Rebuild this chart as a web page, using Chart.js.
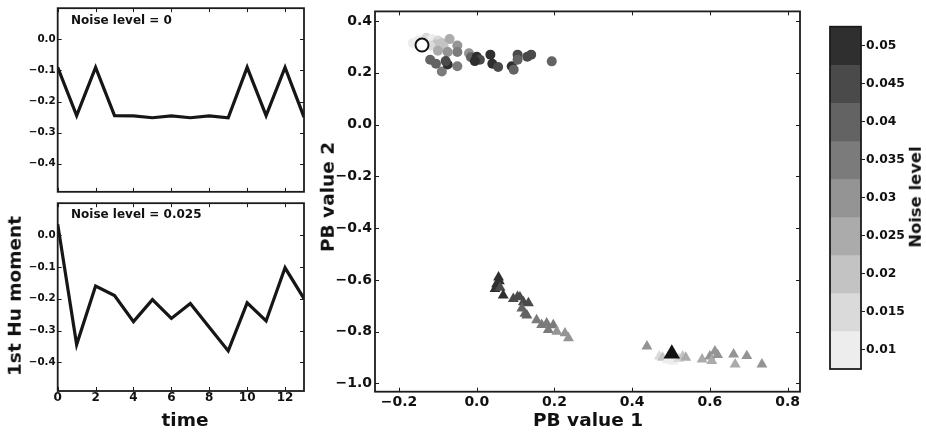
<!DOCTYPE html>
<html><head><meta charset="utf-8">
<script src="https://cdn.jsdelivr.net/npm/chart.js@4"></script>
<style>
html,body{margin:0;padding:0;background:#fff;width:926px;height:433px;overflow:hidden;}
.box{position:absolute;}
.lbl{position:absolute;font-family:"DejaVu Sans";font-weight:bold;color:#111;white-space:nowrap;line-height:1;}
.c{transform:translate(-50%,-50%);}
.r{transform:translate(-50%,-50%) rotate(-90deg);}
</style></head><body>
<div class="box" style="left:0;top:0;width:312px;height:200px"><canvas id="c1"></canvas></div>
<div class="box" style="left:0;top:195px;width:312px;height:238px"><canvas id="c2"></canvas></div>
<div class="box" style="left:320px;top:0;width:500px;height:433px"><canvas id="c3"></canvas></div>
<div class="box" style="left:820px;top:0;width:106px;height:433px"><canvas id="c4"></canvas></div>

<div class="lbl" style="left:71px;top:14px;font-size:12px">Noise level = 0</div>
<div class="lbl" style="left:71px;top:208px;font-size:12px">Noise level = 0.025</div>
<div class="lbl r" style="left:15px;top:296px;font-size:18.5px">1st Hu moment</div>
<div class="lbl c" style="left:185px;top:420px;font-size:18.5px">time</div>
<div class="lbl c" style="left:588px;top:420px;font-size:18.5px">PB value 1</div>
<div class="lbl r" style="left:328px;top:197px;font-size:18.5px">PB value 2</div>
<div class="lbl r" style="left:916px;top:197px;font-size:16.4px">Noise level</div>

<script>
// ---------- data ----------
const time = [0,1,2,3,4,5,6,7,8,9,10,11,12,13];
const huNoise0 = [-0.09,-0.245,-0.09,-0.245,-0.246,-0.252,-0.246,-0.252,-0.246,-0.252,-0.09,-0.245,-0.09,-0.25];
const huNoise025 = [0.034,-0.344,-0.16,-0.19,-0.272,-0.203,-0.262,-0.215,-0.29,-0.364,-0.213,-0.27,-0.103,-0.2];
const huYTicks = [0,-0.1,-0.2,-0.3,-0.4];
const timeTicks = [0,2,4,6,8,10,12];

const noiseLevels = ['0.01','0.015','0.02','0.025','0.03','0.035','0.04','0.045','0.05'];
const noiseColors = ['#ecedec','#dadada','#c3c3c3','#ababab','#949494','#7b7b7b','#636363','#4a4a4a','#2f2f2f'];

// circle group (PB value 1, PB value 2, noise level)
const circleX = [-0.165,-0.15,-0.13,-0.115,-0.10,-0.105,-0.12,-0.09,-0.07,-0.085,-0.05,-0.10,-0.075,-0.05,-0.02,-0.12,-0.105,-0.09,-0.05,-0.075,-0.08,-0.015,0.0,0.008,-0.005,0.035,0.04,0.055,0.09,0.095,0.105,0.105,0.13,0.14,0.193];
const circleY = [0.315,0.325,0.335,0.33,0.325,0.31,0.305,0.315,0.33,0.30,0.305,0.285,0.28,0.28,0.275,0.25,0.235,0.205,0.225,0.232,0.245,0.26,0.262,0.25,0.245,0.27,0.235,0.222,0.225,0.212,0.27,0.25,0.262,0.27,0.244];
const circleLevel = ['0.01','0.01','0.015','0.01','0.015','0.02','0.015','0.02','0.025','0.02','0.03','0.025','0.03','0.035','0.03','0.04','0.04','0.035','0.035','0.05','0.045','0.04','0.05','0.045','0.05','0.05','0.05','0.045','0.05','0.04','0.045','0.04','0.045','0.045','0.04'];

// triangle group
const triX = [0.056,0.058,0.051,0.047,0.06,0.068,0.094,0.105,0.111,0.12,0.133,0.116,0.124,0.129,0.154,0.167,0.18,0.197,0.184,0.206,0.227,0.236,
              0.438,0.47,0.478,0.49,0.505,0.52,0.53,0.538,0.58,0.60,0.613,0.605,0.62,0.661,0.665,0.695,0.734];
const triY = [-0.59,-0.605,-0.616,-0.635,-0.63,-0.66,-0.673,-0.665,-0.667,-0.686,-0.69,-0.71,-0.73,-0.737,-0.755,-0.774,-0.768,-0.775,-0.793,-0.8,-0.806,-0.825,
              -0.857,-0.895,-0.9,-0.91,-0.915,-0.905,-0.895,-0.9,-0.907,-0.895,-0.876,-0.913,-0.89,-0.888,-0.926,-0.894,-0.926];
const triLevel = ['0.05','0.05','0.05','0.05','0.045','0.05','0.045','0.045','0.045','0.045','0.045','0.04','0.04','0.04','0.035','0.035','0.035','0.035','0.035','0.03','0.03','0.03',
                  '0.03','0.015','0.02','0.01','0.01','0.015','0.02','0.025','0.025','0.03','0.03','0.025','0.03','0.03','0.025','0.03','0.03'];

// noise level 0 reference markers
const refCircle = [-0.141, 0.307];
const refTriangle = [0.502, -0.885];

const pbXTicks = [-0.2,0.0,0.2,0.4,0.6,0.8];
const pbYTicks = [0.4,0.2,0.0,-0.2,-0.4,-0.6,-0.8,-1.0];

// ---------- helpers ----------
const FONT = 'DejaVu Sans';
const levelColor = l => noiseColors[noiseLevels.indexOf(l)];
const fmt1 = v => (Math.abs(v) < 1e-9 ? '0.0' : v.toFixed(1)).replace('-', '\u2212');
const fixedTicks = arr => (s => { s.ticks = arr.map(v => ({value: v})); });

const frameTicks = {
  id: 'frameTicks',
  afterDraw(chart, args, opts) {
    const {ctx, chartArea: a} = chart;
    ctx.save();
    ctx.strokeStyle = '#1c1c1c';
    if (opts.ticks) {
      const L = 4;
      ctx.lineWidth = 1;
      ctx.beginPath();
      const xs = chart.scales.x, ys = chart.scales.y;
      for (const t of xs.ticks) {
        const p = Math.round(xs.getPixelForValue(t.value)) + 0.5;
        ctx.moveTo(p, a.top); ctx.lineTo(p, a.top + L);
        ctx.moveTo(p, a.bottom); ctx.lineTo(p, a.bottom - L);
      }
      for (const t of ys.ticks) {
        const p = Math.round(ys.getPixelForValue(t.value)) + 0.5;
        ctx.moveTo(a.left, p); ctx.lineTo(a.left + L, p);
        ctx.moveTo(a.right, p); ctx.lineTo(a.right - L, p);
      }
      ctx.stroke();
    }
    ctx.lineWidth = 1.8;
    ctx.strokeRect(a.left, a.top, a.right - a.left, a.bottom - a.top);
    ctx.restore();
  }
};
Chart.register(frameTicks);

function huChart(id, values, showX, padTop) {
  return new Chart(document.getElementById(id), {
    type: 'line',
    data: { datasets: [{
      data: time.map((t, i) => ({x: t, y: values[i]})),
      borderColor: '#161616', borderWidth: 3.2, pointRadius: 0, tension: 0,
      borderJoinStyle: 'miter'
    }]},
    options: {
      responsive: true, maintainAspectRatio: false, animation: false, events: [],
      layout: { padding: { left: 0, right: 8, top: padTop, bottom: showX ? 0 : 4 } },
      plugins: { legend: {display: false}, tooltip: {enabled: false}, frameTicks: {ticks: true} },
      scales: {
        x: { type: 'linear', min: 0, max: 13,
          afterBuildTicks: fixedTicks(timeTicks),
          afterFit: s => { s.height = showX ? 42 : 0; },
          grid: {display: false, drawTicks: false}, border: {display: false},
          ticks: { display: showX, padding: 0, font: {family: FONT, weight: 'bold', size: 12}, color: '#111', maxRotation: 0,
                   callback: v => String(v) } },
        y: { type: 'linear', min: -0.49, max: 0.1,
          afterBuildTicks: fixedTicks(huYTicks),
          afterFit: s => { s.width = 57.7; },
          grid: {display: false, drawTicks: false}, border: {display: false},
          ticks: { padding: 2, font: {family: FONT, weight: 'bold', size: 10.3}, color: '#111', callback: fmt1 } }
      }
    }
  });
}
huChart('c1', huNoise0, false, 5);
huChart('c2', huNoise025, true, 5);

new Chart(document.getElementById('c3'), {
  type: 'scatter',
  data: { datasets: [
    { data: [{x: refCircle[0], y: refCircle[1]}], pointStyle: 'circle', pointRadius: 6.5,
      backgroundColor: '#ffffff', borderColor: '#111111', borderWidth: 2 },
    { data: [{x: refTriangle[0], y: refTriangle[1]}], pointStyle: 'triangle', pointRadius: 9.5,
      backgroundColor: '#111111', borderColor: '#111111', borderWidth: 0 },
    { data: circleX.map((x, i) => ({x, y: circleY[i]})), pointStyle: 'circle', pointRadius: 5,
      backgroundColor: circleLevel.map(levelColor), borderWidth: 0 },
    { data: triX.map((x, i) => ({x, y: triY[i]})), pointStyle: 'triangle', pointRadius: 6.3,
      backgroundColor: triLevel.map(levelColor), borderWidth: 0 }
  ]},
  options: {
    responsive: true, maintainAspectRatio: false, animation: false, events: [],
    layout: { padding: { left: 0, right: 20, top: 4.3, bottom: 0 } },
    plugins: { legend: {display: false}, tooltip: {enabled: false}, frameTicks: {ticks: true} },
    scales: {
      x: { type: 'linear', min: -0.262, max: 0.832,
        afterBuildTicks: fixedTicks(pbXTicks),
        afterFit: s => { s.height = 41.3; },
        grid: {display: false, drawTicks: false}, border: {display: false},
        ticks: { padding: 2, font: {family: FONT, weight: 'bold', size: 14}, color: '#111', maxRotation: 0, callback: fmt1 } },
      y: { type: 'linear', min: -1.032, max: 0.437,
        afterBuildTicks: fixedTicks(pbYTicks),
        afterFit: s => { s.width = 55; },
        grid: {display: false, drawTicks: false}, border: {display: false},
        ticks: { padding: 3, font: {family: FONT, weight: 'bold', size: 14}, color: '#111', callback: fmt1 } }
    }
  }
});

new Chart(document.getElementById('c4'), {
  type: 'bar',
  data: { labels: noiseLevels, datasets: [{
    data: noiseLevels.map(() => 1), backgroundColor: noiseColors, borderWidth: 0,
    barPercentage: 1, categoryPercentage: 1
  }]},
  options: {
    indexAxis: 'y',
    responsive: true, maintainAspectRatio: false, animation: false, events: [],
    layout: { padding: { left: 10, right: 0, top: 26.7, bottom: 64 } },
    plugins: { legend: {display: false}, tooltip: {enabled: false}, frameTicks: {ticks: false} },
    scales: {
      x: { type: 'linear', min: 0, max: 1, display: false },
      y: { type: 'category', position: 'right', reverse: true,
        afterFit: s => { s.width = 65; },
        grid: { display: true, drawOnChartArea: false, offset: false, tickLength: 4, color: '#1c1c1c', lineWidth: 1 },
        border: {display: false},
        ticks: { padding: 1, font: {family: FONT, weight: 'bold', size: 12.3}, color: '#111' } }
    }
  }
});
</script>
</body></html>
